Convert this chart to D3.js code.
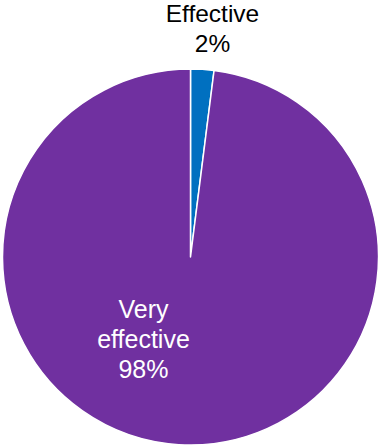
<!DOCTYPE html>
<html><head><meta charset="utf-8">
<script src="https://cdn.jsdelivr.net/npm/d3@7"></script>
<style>html,body{margin:0;padding:0;background:#fff}</style>
</head><body>
<svg id="c" width="381" height="446"></svg>
<script>
const categories = ["Effective", "Very effective"];
const values = [2, 98];
const labels = ["2%", "98%"];
const colors = ["#0070C0", "#7030A0"];

const svg = d3.select("#c");
const cx = 190.5, cy = 257, r = 188;
const g = svg.append("g").attr("transform", `translate(${cx},${cy})`);
const pie = d3.pie().sort(null).value(d => d.v);
const data = categories.map((c, i) => ({c, v: values[i], l: labels[i], col: colors[i]}));
const arcs = pie(data);
const arc = d3.arc().innerRadius(0).outerRadius(r);
g.selectAll("path").data(arcs).enter().append("path")
  .attr("d", arc).attr("fill", d => d.data.col)
  .attr("stroke", "#fff").attr("stroke-width", 1.5).attr("stroke-linejoin", "round");

const font = "'Liberation Sans', Arial, sans-serif";
// Effective label (outside)
const t1 = svg.append("text").attr("font-family", font).attr("font-size", 24.5)
  .attr("text-anchor", "middle").attr("fill", "#000");
t1.append("tspan").attr("x", 212.5).attr("y", 22).text(categories[0]);
t1.append("tspan").attr("x", 212.5).attr("y", 52).text(labels[0]);
// Very effective label (inside)
const t2 = svg.append("text").attr("font-family", font).attr("font-size", 25)
  .attr("text-anchor", "middle").attr("fill", "#fff");
["Very", "effective", labels[1]].forEach((s, i) => {
  t2.append("tspan").attr("x", 143.5).attr("y", 318 + i * 30).text(s);
});
</script>
</body></html>
